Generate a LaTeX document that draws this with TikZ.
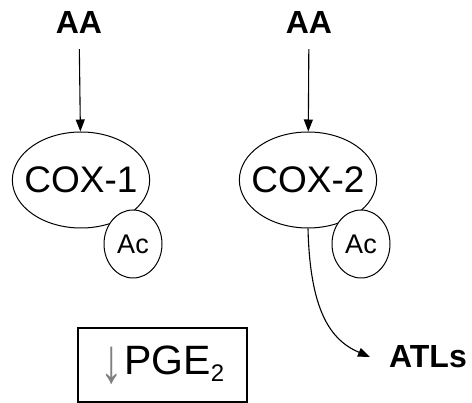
\documentclass[tikz,border=0pt]{standalone}
\usepackage{fontspec}
\setmainfont{Liberation Sans}
\usetikzlibrary{shapes.geometric,arrows.meta}

\tikzset{
  enzyme/.style={ellipse,draw,line width=1pt,inner xsep=-8pt,inner ysep=0pt,minimum width=136pt,minimum height=96pt,font=\fontsize{37}{37}\selectfont},
  acetyl/.style={ellipse,draw,fill=white,line width=1pt,inner sep=0pt,minimum width=58pt,minimum height=68pt,font=\fontsize{27}{27}\selectfont},
  label/.style={font=\fontsize{32}{32}\selectfont\bfseries,inner sep=0pt},
  flow/.style={-{Triangle[length=12pt,width=9pt]},line width=1.1pt}
}

\begin{document}
\begin{tikzpicture}[x=1pt,y=-1pt]
            \useasboundingbox (0,0) rectangle (472,403);
            % left: COX-1
            \node (aa1) at (79,22) [label] {AA};
            \node (cox1) at (81,180) [enzyme] {COX-1};
            \node (ac1) at (133,244) [acetyl] {Ac};
            \draw[flow,shorten <=16pt] (aa1) -- (cox1);
            % right: COX-2
            \node (aa2) at (309,22) [label] {AA};
            \node (cox2) at (308,180) [enzyme] {COX-2};
            \node (ac2) at (361,244) [acetyl] {Ac};
            \draw[flow,shorten <=16pt] (aa2) -- (cox2);
            \node (atl) at (428,357) [label] {ATLs};
            \draw[flow] (cox2.south) .. controls (310,310) and (330,340) .. ([xshift=-19pt]atl.west);
            % product box
            \node (pge) at (162.5,365) [draw,line width=1.8pt,inner sep=0pt,minimum width=169pt,minimum height=74pt,font=\fontsize{41}{41}\selectfont]
              {\raisebox{-8pt}{\textcolor{gray}{\fontsize{30}{30}\selectfont\scalebox{1.5}[2.1]{↓}}}\hspace{1pt}PGE{\fontsize{24}{24}\selectfont\raisebox{-7pt}{2}}};
        \end{tikzpicture}
\end{document}
